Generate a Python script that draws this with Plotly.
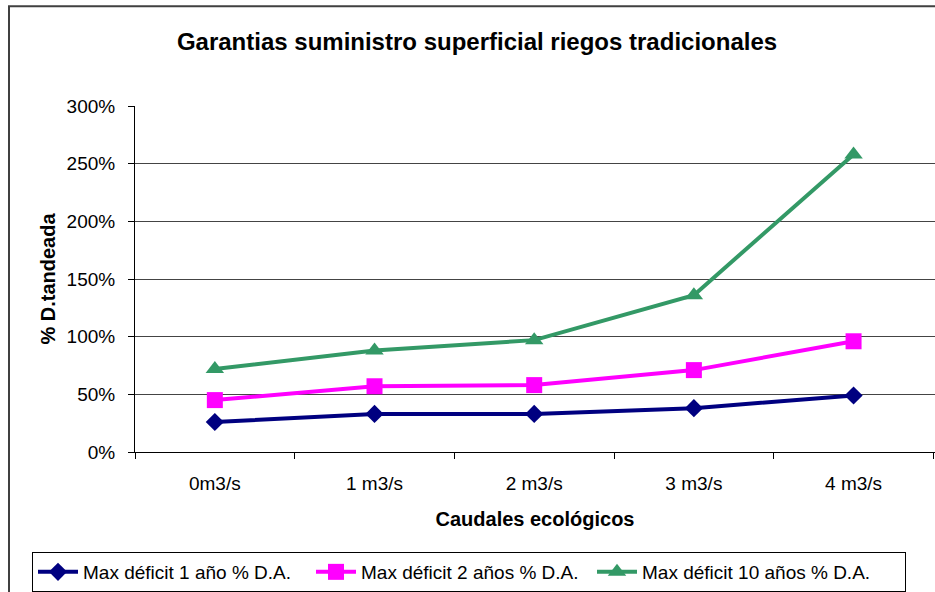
import plotly.graph_objects as go

categories = ["0m3/s", "1 m3/s", "2 m3/s", "3 m3/s", "4 m3/s"]
max_def_1 = [26, 33, 33, 38, 49]
max_def_2 = [45, 57, 58, 71, 96]
max_def_10 = [72, 88, 97, 136, 258]
series_names = ["Max déficit 1 año % D.A.", "Max déficit 2 años % D.A.", "Max déficit 10 años % D.A."]
y_ticks = [0, 50, 100, 150, 200, 250, 300]
y_tick_labels = [f"{v}%" for v in y_ticks]

FONT = "Liberation Sans, Arial, sans-serif"

fig = go.Figure()
styles = [
    ("#000080", "diamond", 14, 223),
    ("#FF00FF", "square", 16, 226),
    ("#339966", "triangle-up", 16, 258),
]
for name, vals, (col, sym, sz, lw) in zip(series_names, [max_def_1, max_def_2, max_def_10], styles):
    fig.add_trace(go.Scatter(
        x=categories, y=vals, name=name, mode="lines+markers",
        line=dict(color=col, width=4),
        marker=dict(symbol=sym, size=sz, color=col, line=dict(width=0)),
        legendwidth=lw,
    ))

W, H = 935, 592
L, T, B, R = 135, 106, 139, 0
pw, ph = W - L - R, H - T - B

fig.update_layout(
    width=W, height=H, autosize=False,
    margin=dict(l=L, r=R, t=T, b=B, pad=0),
    paper_bgcolor="white", plot_bgcolor="white",
    font=dict(family=FONT, color="black"),
    title=dict(text="<b>Garantias suministro superficial riegos tradicionales</b>",
               font=dict(size=24, family=FONT, color="black"),
               x=477 / W, xanchor="center", xref="container", y=1 - 42 / H, yanchor="middle",
               yref="container"),
    showlegend=True,
    legend=dict(orientation="h", x=(32 - L) / pw, xanchor="left", y=(453 - 553) / ph, yanchor="top",
                bordercolor="black", borderwidth=1, bgcolor="white",
                font=dict(size=19, family=FONT, color="black"),
                tracegroupgap=0, itemwidth=40),
    xaxis=dict(type="category", range=[-0.5, 4.51], tickson="boundaries",
               showline=True, linecolor="black", linewidth=1,
               ticks="outside", ticklen=6, tickcolor="black", tickwidth=1,
               showgrid=False, zeroline=False, ticklabelstandoff=14,
               tickfont=dict(size=19, family=FONT, color="black"),
               title=dict(text="<b>Caudales ecológicos</b>", font=dict(size=20, family=FONT, color="black"),
                          standoff=19)),
    yaxis=dict(range=[0, 300], tickmode="array", tickvals=y_ticks, ticktext=y_tick_labels,
               showline=True, linecolor="black", linewidth=1,
               ticks="outside", ticklen=6, tickcolor="black", tickwidth=1,
               showgrid=True, gridcolor="#444444", gridwidth=1, zeroline=False,
               ticklabelstandoff=9,
               tickfont=dict(size=19, family=FONT, color="black"),
               title=dict(text="<b>% D.tandeada</b>", font=dict(size=20, family=FONT, color="black"),
                          standoff=5)),
    shapes=[dict(type="rect", xref="paper", yref="paper",
                 x0=(9 - L) / pw, x1=1.2, y0=-1.0, y1=(H - B - 6) / ph,
                 line=dict(color="#404040", width=2), fillcolor="rgba(0,0,0,0)", layer="below")],
)

fig.write_html("out.html", config={"displayModeBar": False},
               post_script="document.body.style.margin='0';document.body.style.overflow='hidden';")
